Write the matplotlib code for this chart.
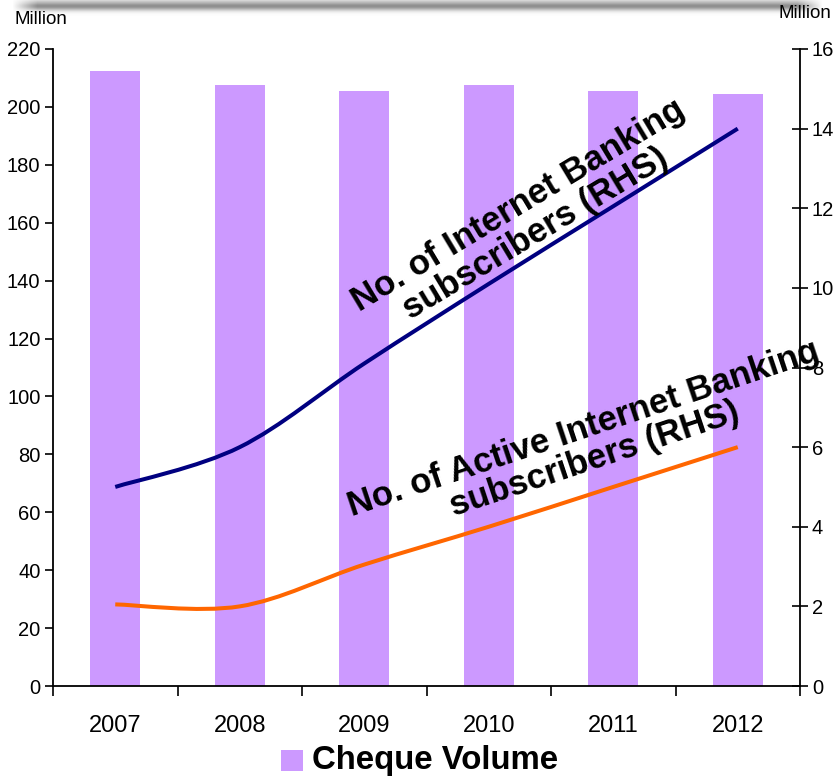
import numpy as np
import matplotlib
matplotlib.use("Agg")
import matplotlib.pyplot as plt
from matplotlib.path import Path
from matplotlib.patches import PathPatch, Rectangle

plt.rcParams['font.family'] = ['Liberation Sans', 'DejaVu Sans']

# Data
years = ['2007', '2008', '2009', '2010', '2011', '2012']
cheque_volume = [212.4, 207.6, 205.5, 207.6, 205.5, 204.5]          # million, LHS
ib_subscribers = [5.0, 6.0, 8.1, 10.1, 12.05, 14.0]                 # million, RHS
active_ib_subscribers = [2.05, 2.0, 3.05, 4.0, 5.0, 6.0]            # million, RHS

left_ticks = list(range(0, 221, 20))
right_ticks = list(range(0, 17, 2))

BAR = '#CC99FF'
NAVY = '#000080'
ORANGE = '#FF6600'

W, H = 833, 778
fig = plt.figure(figsize=(W / 100, H / 100), dpi=100)
fig.patch.set_facecolor('white')

ax = fig.add_axes([53 / W, 1 - 686 / H, (800 - 53) / W, (686 - 49) / H])
ax2 = ax.twinx()

x = np.arange(len(years))
ax.bar(x, cheque_volume, width=0.4, color=BAR, zorder=1)
ax.set_xlim(-0.5, len(years) - 0.5)
ax.set_ylim(0, 220)
ax.set_yticks(left_ticks)
ax.set_xticks(np.arange(-0.5, len(years), 1.0))
ax.set_xticklabels([])
ax.set_xticks(x, minor=True)
ax.set_xticklabels(years, minor=True, fontsize=17)
ax.tick_params(axis='x', which='minor', length=0, pad=21)
ax.tick_params(axis='x', which='major', direction='out', length=7, width=1.2)
ax.tick_params(axis='y', direction='out', length=6, width=1.2, labelsize=14.5, pad=3)
for s in ['top', 'right']:
    ax.spines[s].set_visible(False)
ax.spines['left'].set_linewidth(1.3)
ax.spines['bottom'].set_linewidth(1.3)

ax2.set_ylim(0, 16)
ax2.set_yticks(right_ticks)
ax2.tick_params(axis='y', direction='inout', length=11, width=1.2, labelsize=14.5, pad=3)
for s in ['top', 'left', 'bottom']:
    ax2.spines[s].set_visible(False)
ax2.spines['right'].set_linewidth(1.3)


def smooth_path(xs, ys):
    """Bezier path through the points with Excel-style smoothing."""
    pts = np.column_stack([xs, ys]).astype(float)
    n = len(pts)
    verts = [pts[0]]
    codes = [Path.MOVETO]
    for i in range(n - 1):
        p0 = pts[i - 1] if i > 0 else pts[i]
        p1 = pts[i]
        p2 = pts[i + 1]
        p3 = pts[i + 2] if i + 2 < n else pts[i + 1]
        c1 = p1 + (p2 - p0) / 6.0
        c2 = p2 - (p3 - p1) / 6.0
        verts += [c1, c2, p2]
        codes += [Path.CURVE4] * 3
    return Path(verts, codes)


for series, col in [(ib_subscribers, NAVY), (active_ib_subscribers, ORANGE)]:
    patch = PathPatch(smooth_path(x, series), facecolor='none', edgecolor=col,
                      lw=2.9, capstyle='butt', zorder=3)
    ax2.add_patch(patch)

# Series captions along the lines
fig.text(527 / W, 1 - 220 / H, 'No. of Internet Banking\nsubscribers (RHS)',
         rotation=31, rotation_mode='anchor', ha='center', va='center',
         multialignment='center', fontsize=25, fontweight='bold',
         linespacing=1.0, zorder=5)
fig.text(589 / W, 1 - 444 / H, 'No. of Active Internet Banking\nsubscribers (RHS)',
         rotation=18.5, rotation_mode='anchor', ha='center', va='center',
         multialignment='center', fontsize=25, fontweight='bold',
         linespacing=1.0, zorder=5)

# Unit labels
fig.text(15 / W, 1 - 19 / H, 'Million', fontsize=13.5, ha='left', va='center')
fig.text(831 / W, 1 - 14 / H, 'Million', fontsize=13.5, ha='right', va='center')

# Legend
fig.patches.append(Rectangle((281 / W, 1 - 771 / H), 22 / W, 21 / H,
                             transform=fig.transFigure, facecolor=BAR,
                             edgecolor='none'))
fig.text(312 / W, 1 - 760 / H, 'Cheque Volume', fontsize=23.8,
         fontweight='bold', ha='left', va='center')

# Drop shadow of the frame above the chart
band_h, band_w = 16, 830
yy = np.arange(band_h)[:, None]
xx = np.arange(band_w)[None, :]
vert = np.where(yy < 4, 0.3 + yy * 0.1, np.exp(-((yy - 5.5) / 4.5) ** 2) * 0.8)
horiz = np.clip((xx - 12) / 25, 0, 1) * np.clip((822 - xx) / 25, 0, 1)
alpha = np.clip(vert * horiz, 0, 1)
img = np.zeros((band_h, band_w, 4))
img[..., :3] = 0.45
img[..., 3] = alpha
sax = fig.add_axes([0, 1 - band_h / H, band_w / W, band_h / H])
sax.imshow(img, aspect='auto', interpolation='bilinear')
sax.axis('off')

fig.savefig('out.png', dpi=100, facecolor='white')
